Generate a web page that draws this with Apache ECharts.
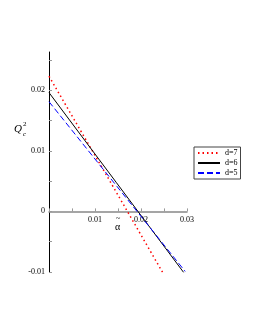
<!DOCTYPE html>
<html><head><meta charset="utf-8">
<script src="https://cdn.jsdelivr.net/npm/echarts@6/dist/echarts.min.js"></script>
<style>html,body{margin:0;padding:0;background:#fff}#c{width:255px;height:330px}</style>
</head><body><div id="c"></div>
<script>
var names = ['d=7', 'd=6', 'd=5'];
var d7 = [[0, 0.0223], [0.0124, 0.0061], [0.0248, -0.0102]];
var d6 = [[0, 0.0196], [0.0146, 0.0048], [0.0293, -0.0101]];
var d5 = [[0, 0.0181], [0.0148, 0.0041], [0.0296, -0.0099]];
var xTicks = [0.01, 0.02, 0.03];
var yTicks = [-0.01, 0, 0.01, 0.02];

var font = 'Liberation Serif';
var chart = echarts.init(document.getElementById('c'));
function fmt(v){ var r = Math.round(v*1000)/1000; return (Math.abs(r) < 1e-9) ? '0' : String(r); }
chart.setOption({
  animation: false,
  grid: {left: 49, right: 68, top: 52, bottom: 58},
  legend: {
    orient: 'vertical', left: 194, top: 147,
    data: names, itemWidth: 22, itemHeight: 8, itemGap: 2,
    borderColor: '#444', borderWidth: 1, padding: [2, 3, 2, 3],
    itemStyle: {opacity: 0},
    textStyle: {fontFamily: font, fontSize: 8, color: '#000'}
  },
  xAxis: {
    type: 'value', min: 0, max: 0.03, interval: 0.005,
    offset: -60.6,
    axisLine: {onZero: false, lineStyle: {color: '#888', width: 1.5}},
    axisTick: {show: true, length: 3, inside: true, lineStyle: {color: '#999'}},
    axisLabel: {fontFamily: font, fontSize: 8, color: '#000', margin: 5,
      formatter: function(v){ return xTicks.some(function(t){return Math.abs(t-v)<1e-9;}) ? fmt(v) : ''; }},
    splitLine: {show: false}
  },
  yAxis: {
    type: 'value', min: -0.01, max: 0.0263, interval: 0.005,
    axisLine: {onZero: false, lineStyle: {color: '#000', width: 1}},
    axisTick: {show: true, length: 3, inside: true, lineStyle: {color: '#999'}},
    axisLabel: {fontFamily: font, fontSize: 8, color: '#000', margin: 4, showMaxLabel: false,
      formatter: function(v){ return yTicks.some(function(t){return Math.abs(t-v)<1e-9;}) ? fmt(v) : ''; }},
    splitLine: {show: false}
  },
  graphic: [
    {type: 'text', left: 14, top: 124, style: {text: 'Q', fontFamily: font, fontStyle: 'italic', fontSize: 11, fill: '#000'}},
    {type: 'text', left: 23, top: 121, style: {text: '2', fontFamily: font, fontSize: 7, fill: '#000'}},
    {type: 'text', left: 23, top: 131, style: {text: 'c', fontFamily: font, fontStyle: 'italic', fontSize: 7, fill: '#000'}},
    {type: 'text', left: 115, top: 222, style: {text: 'α', fontFamily: font, fontSize: 10, fill: '#000'}},
    {type: 'text', left: 116, top: 215, style: {text: '~', fontFamily: font, fontSize: 8, fill: '#000'}}
  ],
  series: [
    {name: names[0], type: 'line', data: d7, symbol: 'none', lineStyle: {color: '#ff0000', width: 1.5, type: [1.5, 3]}, itemStyle: {color: '#ff0000'}},
    {name: names[1], type: 'line', data: d6, symbol: 'none', lineStyle: {color: '#000000', width: 1}, itemStyle: {color: '#000'}},
    {name: names[2], type: 'line', data: d5, symbol: 'none', lineStyle: {color: '#0000ff', width: 1, type: [6, 3]}, itemStyle: {color: '#0000ff'}}
  ]
});
</script></body></html>
